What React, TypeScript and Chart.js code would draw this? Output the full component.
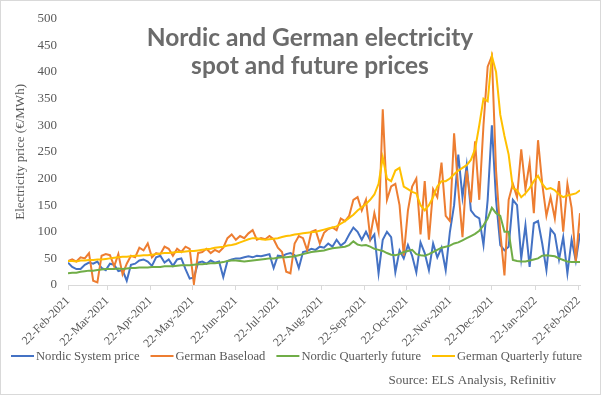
import React, { useEffect, useRef } from "react";
import { Chart, registerables } from "chart.js";

Chart.register(...registerables);

// Day offsets from 22-Feb-2021 for the monthly axis ticks
const tickDays = [0, 28, 59, 89, 120, 150, 181, 212, 242, 273, 303, 334, 365];
const tickLabels = [
  "22-Feb-2021", "22-Mar-2021", "22-Apr-2021", "22-May-2021", "22-Jun-2021",
  "22-Jul-2021", "22-Aug-2021", "22-Sep-2021", "22-Oct-2021", "22-Nov-2021",
  "22-Dec-2021", "22-Jan-2022", "22-Feb-2022",
];
// sampling interval of the series (days)
const dayStep = 3;

const nordicSystem = [
  42, 34, 30, 30, 38, 42, 40, 44, 32, 28,
  40, 38, 26, 28, 8, 38, 40, 46, 48, 44,
  36, 52, 55, 42, 48, 36, 48, 50, 30, 12,
  14, 42, 44, 40, 46, 42, 44, 15, 45, 48,
  50, 50, 52, 54, 52, 55, 54, 56, 58, 32,
  55, 54, 58, 60, 56, 32, 62, 64, 68, 66,
  72, 70, 78, 72, 85, 74, 80, 95, 108, 100,
  85, 100, 84, 95, 22, 85, 100, 90, 24, 65,
  50, 75, 55, 24, 80, 60, 28, 78, 52, 70,
  28, 100, 150, 245, 165, 225, 140, 130, 125, 75,
  160, 300, 160, 75, 65, 72, 160, 150, 50, 112,
  34, 116, 120, 78, 28, 105, 95, 48, 90, 22,
  85, 45, 97,
];

const germanBaseload = [
  45, 48, 44, 52, 50, 60, 8, 5, 55, 58,
  56, 35, 58, 20, 40, 55, 52, 70, 65, 78,
  52, 60, 58, 72, 68, 55, 68, 62, 72, 68,
  2, 60, 62, 68, 60, 66, 62, 70, 88, 95,
  85, 92, 88, 97, 103, 85, 88, 86, 92, 86,
  70, 62, 25, 22, 78, 92, 88, 65, 100, 103,
  78, 98, 105, 108, 103, 125, 120, 130, 160, 165,
  140, 160, 90, 135, 100, 330, 160, 185, 190, 150,
  55, 140, 185, 200, 95, 195, 85, 180, 165, 230,
  130, 120, 285, 180, 90, 215, 155, 270, 160, 300,
  410, 430, 215, 100, 18, 160, 190, 165, 255, 180,
  230, 135, 272, 190, 130, 165, 125, 195, 100, 190,
  145, 45, 135,
];

const nordicQuarterly = [
  22, 23, 23, 25, 26, 27, 27, 28, 29, 30,
  30, 30, 31, 30, 31, 32, 32, 33, 33, 33,
  34, 34, 34, 35, 35, 35, 36, 37, 37, 37,
  38, 39, 39, 40, 41, 41, 42, 43, 45, 46,
  46, 45, 44, 45, 46, 47, 48, 49, 50, 50,
  51, 52, 52, 53, 54, 56, 58, 60, 62, 63,
  64, 65, 67, 69, 70, 71, 72, 75, 82, 76,
  74, 75, 72, 68, 66, 64, 60, 57, 56, 58,
  62, 64, 66, 58, 56, 55, 58, 62, 66, 70,
  72, 74, 78, 80, 84, 88, 92, 96, 102, 112,
  125, 145, 135, 130, 100, 100, 47, 45, 44, 44,
  46, 48, 50, 55, 56, 55, 54, 50, 47, 44,
  43, 43, 43,
];

const germanQuarterly = [
  45, 45, 44, 46, 46, 47, 47, 48, 48, 49,
  50, 51, 52, 53, 53, 54, 55, 55, 56, 56,
  57, 58, 59, 60, 60, 61, 62, 62, 63, 64,
  64, 65, 66, 67, 68, 70, 71, 72, 74, 75,
  77, 80, 83, 86, 88, 88, 86, 85, 86, 87,
  88, 90, 92, 93, 95, 96, 97, 98, 99, 100,
  102, 104, 106, 108, 110, 115, 120, 126, 132, 140,
  146, 152, 160, 170, 190, 240, 200, 195, 215, 220,
  185, 180, 175, 172, 150, 140, 150, 165, 185, 195,
  195, 200, 208, 215, 220, 225, 235, 255, 300, 350,
  345, 430, 400, 320, 280, 245, 182, 178, 165, 172,
  182, 195, 205, 190, 180, 182, 178, 170, 165, 168,
  170, 172, 178,
];

const seriesNames = [
  "Nordic System price",
  "German Baseload",
  "Nordic Quarterly future",
  "German Quarterly future",
];
const seriesColors = ["#4472C4", "#ED7D31", "#70AD47", "#FFC000"];
const titleLines = ["Nordic and German electricity", "spot and future prices"];
const yAxisTitle = "Electricity price (€/MWh)";
const sourceText = "Source: ELS Analysis, Refinitiv";

const SERIF = "'Liberation Serif', 'DejaVu Serif', serif";
const TEXT_GRAY = "#595959";

export default function App() {
  const ref = useRef<HTMLCanvasElement>(null);

  useEffect(() => {
    const canvas = ref.current;
    if (!canvas) return;
    const series = [nordicSystem, germanBaseload, nordicQuarterly, germanQuarterly];

    const overlay = {
      id: "overlay",
      afterDraw(chart: any) {
        const ctx = chart.ctx as CanvasRenderingContext2D;
        ctx.save();
        ctx.strokeStyle = "#d9d9d9";
        ctx.lineWidth = 1;
        ctx.strokeRect(0.5, 0.5, 600, 394);

        ctx.fillStyle = "#6b6b6b";
        ctx.font = "bold 24.5px Lato, 'Open Sans', sans-serif";
        ctx.textAlign = "center";
        ctx.textBaseline = "alphabetic";
        ctx.fillText(titleLines[0], 310, 46);
        ctx.fillText(titleLines[1], 310, 74);

        ctx.font = `12.6px ${SERIF}`;
        ctx.textAlign = "left";
        ctx.textBaseline = "middle";
        let x = 11;
        const y = 356;
        seriesNames.forEach((name, k) => {
          ctx.strokeStyle = seriesColors[k];
          ctx.lineWidth = 2;
          ctx.beginPath();
          ctx.moveTo(x, y);
          ctx.lineTo(x + 23, y);
          ctx.stroke();
          x += 25;
          ctx.fillStyle = TEXT_GRAY;
          ctx.fillText(name, x, y + 1);
          x += ctx.measureText(name).width + 11;
        });

        ctx.font = `13px ${SERIF}`;
        ctx.textAlign = "right";
        ctx.fillText(sourceText, 556, 381);
        ctx.restore();
      },
    };

    const chart = new Chart(canvas, {
      type: "line",
      data: {
        datasets: series.map((arr, k) => ({
          label: seriesNames[k],
          data: arr.map((v, i) => ({ x: i * dayStep, y: v })),
          borderColor: seriesColors[k],
          backgroundColor: seriesColors[k],
          borderWidth: 2,
          pointRadius: 0,
          tension: 0,
          order: 3 - k,
        })),
      },
      options: {
        animation: false,
        responsive: false,
        devicePixelRatio: 1,
        layout: { padding: { left: 0, right: 22, top: 18, bottom: 0 } },
        plugins: {
          legend: { display: false },
          tooltip: { enabled: false },
        },
        scales: {
          x: {
            type: "linear",
            min: 0,
            max: 366,
            afterBuildTicks: (s: any) => {
              s.ticks = tickDays.map((v) => ({ value: v }));
            },
            afterFit: (s: any) => {
              s.height = 111;
            },
            ticks: {
              autoSkip: false,
              maxRotation: 45,
              minRotation: 45,
              padding: 4,
              color: TEXT_GRAY,
              font: { family: SERIF, size: 12 },
              callback: (v: any) => {
                const idx = tickDays.indexOf(Number(v));
                return idx >= 0 ? tickLabels[idx] : "";
              },
            },
            grid: {
              display: true,
              drawOnChartArea: false,
              drawTicks: true,
              tickLength: 5,
              color: "#d9d9d9",
            },
            border: { display: true, color: "#d9d9d9", width: 1 },
          },
          y: {
            min: 0,
            max: 500,
            afterFit: (s: any) => {
              s.width = 68;
            },
            ticks: {
              stepSize: 50,
              padding: 11,
              color: TEXT_GRAY,
              font: { family: SERIF, size: 13 },
            },
            grid: { display: false, drawTicks: false },
            border: { display: false },
            title: {
              display: true,
              text: yAxisTitle,
              color: TEXT_GRAY,
              font: { family: SERIF, size: 13 },
              padding: { top: 13, bottom: 0 },
            },
          },
        },
      },
      plugins: [overlay],
    } as any);

    return () => chart.destroy();
  }, []);

  return (
    <div style={{ position: "fixed", left: 0, top: 0, width: 602, height: 396, background: "#fff" }}>
      <canvas ref={ref} width={602} height={396} style={{ display: "block", width: 602, height: 396 }} />
    </div>
  );
}
